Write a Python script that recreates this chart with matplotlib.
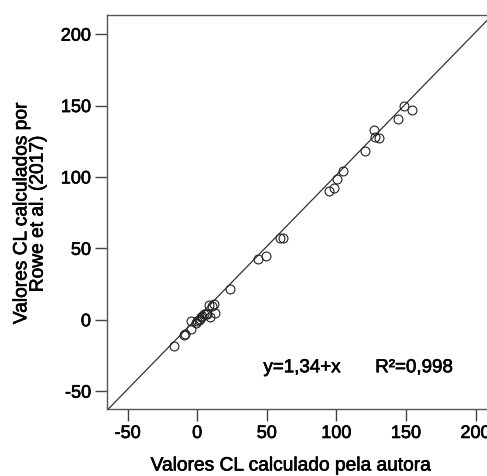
import matplotlib
matplotlib.use("Agg")
import matplotlib.pyplot as plt
import matplotlib.patheffects as pe
import numpy as np

# Data
x_vals = [-16.8, -9.6, -9.0, -4.8, -4.8, -0.5, 0.0, 1.2, 2.0, 2.4, 3.5, 4.8, 6.0, 7.2,
          8.3, 9.5, 10.8, 11.9, 13.1, 23.9, 43.8, 49.5, 59.8, 61.7,
          94.4, 98.5, 100.4, 104.5, 120.7, 127.2, 127.9, 130.3, 144.6, 148.7, 154.2]
y_vals = [-18.6, -10.4, -9.9, -6.6, -1.0, -2.1, -0.8, -0.5, 0.5, 1.8, 2.5, 3.9, 4.2, 4.2,
          10.1, 1.8, 9.6, 11.3, 4.7, 21.8, 42.7, 44.8, 57.5, 57.0,
          89.9, 92.3, 98.8, 104.0, 118.5, 132.8, 127.9, 127.5, 140.4, 149.7, 146.9]
intercept = 1.34
slope = 1.0
ticks = [-50, 0, 50, 100, 150, 200]
eq_text = "y=1,34+x"
r2_text = "R²=0,998"
xlabel = "Valores CL calculado pela autora"
ylabel = "Valores CL calculados por\nRowe et al. (2017)"

plt.rcParams['font.family'] = ['Liberation Sans', 'DejaVu Sans']
plt.rcParams['axes.unicode_minus'] = False

heavy = [pe.withStroke(linewidth=0.45, foreground='black')]

fig = plt.figure(figsize=(4.87, 4.77), dpi=100)
ax = fig.add_axes([107/487, 67/477, 390/487, 394/477])

xlim = (-64.8, 215.4)
ylim = (-62.5, 213.4)
ax.set_xlim(*xlim)
ax.set_ylim(*ylim)

lx = np.array([-100, 300])
ax.plot(lx, intercept + slope * lx, color='#333333', lw=0.9, zorder=1)
ax.plot(x_vals, y_vals, linestyle='none', marker='o', markersize=6.4,
        markerfacecolor='none', markeredgecolor='#222222', markeredgewidth=0.8, zorder=2)

ax.set_xticks(ticks)
ax.set_yticks(ticks)
ax.tick_params(direction='out', length=8.5, width=1.0, color='#444444',
               labelsize=13, pad=3)
for lbl in ax.get_xticklabels() + ax.get_yticklabels():
    lbl.set_path_effects(heavy)
for s in ax.spines.values():
    s.set_color('#555555')
    s.set_linewidth(1.0)

ax.text(47.6, -33.6, eq_text, fontsize=13.5, va='center', ha='left', path_effects=heavy)
ax.text(127.9, -33.6, r2_text, fontsize=13.5, va='center', ha='left', path_effects=heavy)

fig.text(290/487, 1 - 467/477, xlabel, fontsize=13.8, ha='center', va='center',
         path_effects=heavy)
fig.text(30/487, 1 - 215/477, ylabel, fontsize=13.8, ha='center', va='center',
         rotation=90, multialignment='center', linespacing=0.95, path_effects=heavy)

fig.savefig("out.png", dpi=100)
